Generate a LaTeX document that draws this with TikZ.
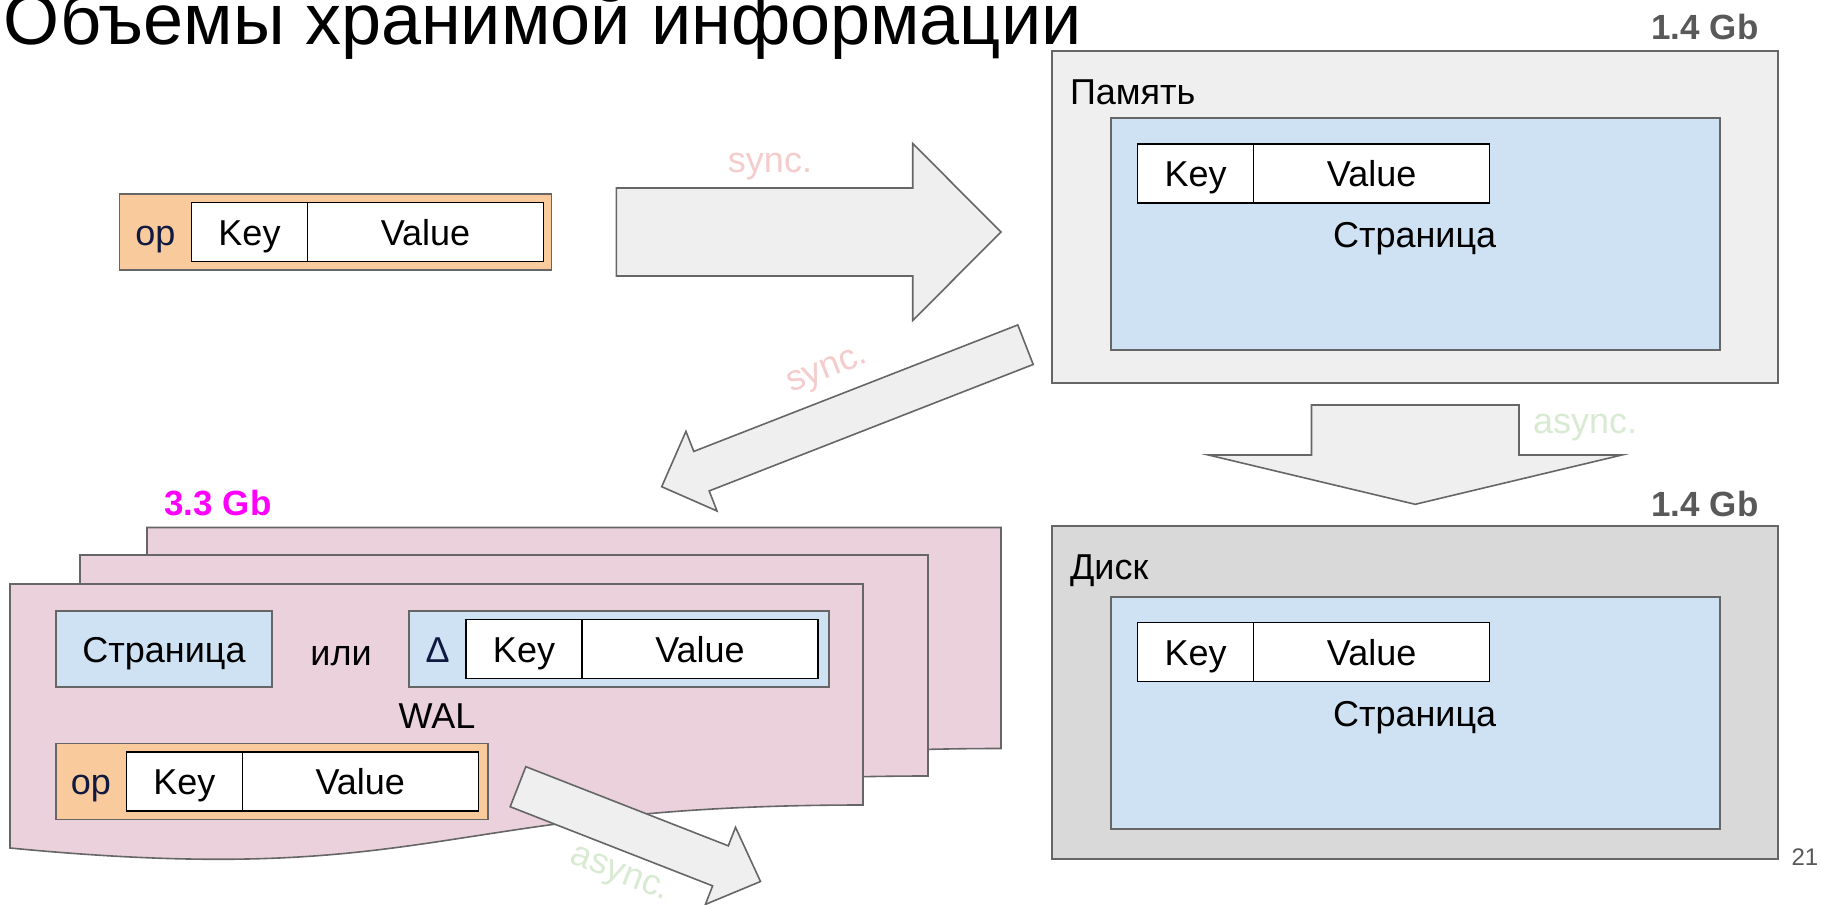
\documentclass[tikz,border=0pt]{standalone}
\usepackage{fontspec}
\setmainfont{Liberation Sans}
\usepackage{tikz}
\usetikzlibrary{positioning,calc}

\definecolor{linegray}{HTML}{666666}
\definecolor{memfill}{HTML}{EFEFEF}
\definecolor{diskfill}{HTML}{D9D9D9}
\definecolor{pagefill}{HTML}{CFE2F3}
\definecolor{opfill}{HTML}{F9CB9C}
\definecolor{walfill}{HTML}{EAD1DC}
\definecolor{syncpink}{HTML}{F4CCCC}
\definecolor{asyncgreen}{HTML}{D9EAD3}
\definecolor{sizegray}{HTML}{595959}
\definecolor{opnavy}{HTML}{101A40}
\definecolor{sizemagenta}{HTML}{FF00FF}

\tikzset{
  every node/.style={inner sep=0pt, outer sep=0pt, font=\fontsize{36}{43}\selectfont},
  grayline/.style={draw=linegray, line width=1.6pt},
  membox/.style={grayline, fill=memfill, minimum width=726pt, minimum height=332pt},
  diskbox/.style={grayline, fill=diskfill, minimum width=726pt, minimum height=333pt},
  pagebox/.style={grayline, fill=pagefill, minimum width=609pt, minimum height=232pt},
  opbox/.style={grayline, fill=opfill, minimum width=432pt, minimum height=76pt},
  deltabox/.style={grayline, fill=pagefill, minimum width=420pt, minimum height=76pt},
  kvcell/.style={draw=black, line width=1.6pt, fill=white, minimum height=59pt, text height=30pt, text depth=4pt},
  keycell/.style={kvcell, minimum width=116pt},
  valcell/.style={kvcell, minimum width=236pt},
  tagcell/.style={text=opnavy, minimum height=59pt, text height=30pt, text depth=4pt},
  sizelabel/.style={font=\fontsize{35}{42}\selectfont\bfseries, text=sizegray},
  synclabel/.style={text=syncpink},
  asynclabel/.style={text=asyncgreen},
  walsheet/.style={grayline, fill=walfill},
  fatarrow/.style={grayline, fill=memfill, line join=miter},
}

% one sheet of the WAL: left, top, right
\newcommand\drawsheet[3]{%
  \filldraw[walsheet] (#1,#2) -- (#3,#2) -- (#3,{#2+221})
    .. controls ({(#1+#3)/2},{#2+221}) and ({(#1+#3)/2},{#2+305}) .. (#1,{#2+264}) -- cycle;
}
% block arrow: tail, tip, half shaft, half head, head length
\newcommand\blockarrow[5]{%
  \coordinate (#1base) at ($(#2)!#5!(#1)$);
  \filldraw[fatarrow] ($(#1)!#3!90:(#2)$) -- ($(#1base)!#3!90:(#2)$) -- ($(#1base)!#4!90:(#2)$)
    -- (#2) -- ($(#1base)!#4!-90:(#2)$) -- ($(#1base)!#3!-90:(#2)$) -- ($(#1)!#3!-90:(#2)$) -- cycle;
}

\begin{document}
\begin{tikzpicture}[x=1pt, y=-1pt]
    \useasboundingbox (0,0) rectangle (1821,905);
    % title, cut at the top
    \node[anchor=base west, font=\fontsize{72}{86}\selectfont] (title) at (4,44) {Объемы хранимой информации};

    % incoming record
    \node[opbox] (oprec) at (335.5,232) {};
    \node[keycell, anchor=west] (opkey) at (191.5,232) {Key};
    \node[valcell, right=0pt of opkey] (opval) {Value};
    \node[tagcell, left=0pt of opkey, minimum width=72pt] (optag) {op};

    % memory
    \node[membox] (mem) at (1415,216.7) {};
    \node[pagebox] (mempage) at (1415.3,233.8) {};
    \node[keycell, anchor=west] (memkey) at (1137.6,173.3) {Key};
    \node[valcell, right=0pt of memkey] (memval) {Value};
    \node[anchor=base west] (memlabel) at (1070,104) {Память};
    \node[anchor=base] (mempagelabel) at (1414.6,247.4) {Страница};
    \node[sizelabel, anchor=base east] (memsize) at (1758.5,39.4) {1.4 Gb};

    % disk
    \node[diskbox] (disk) at (1415,692.5) {};
    \node[pagebox] (diskpage) at (1415.3,712.7) {};
    \node[keycell, anchor=west] (diskkey) at (1137.6,652) {Key};
    \node[valcell, right=0pt of diskkey] (diskval) {Value};
    \node[anchor=base west] (disklabel) at (1070,579.3) {Диск};
    \node[anchor=base] (diskpagelabel) at (1414.6,726.7) {Страница};
    \node[sizelabel, anchor=base east] (disksize) at (1758.5,516.7) {1.4 Gb};

    % WAL sheets
    \drawsheet{147}{527.5}{1001}
    \drawsheet{80}{555}{928}
    \drawsheet{10}{584}{863}
    \node[sizelabel, text=sizemagenta, anchor=base west] (walsize) at (164.5,515) {3.3 Gb};
    \node[pagebox, minimum width=216pt, minimum height=76pt, text height=30pt, text depth=4pt] (walpage) at (164,649) {Страница};
    \node[anchor=base] (ili) at (341,665) {или};
    \node[deltabox] (delta) at (619.2,649) {};
    \node[keycell, anchor=west] (deltakey) at (466,649) {Key};
    \node[valcell, right=0pt of deltakey] (deltaval) {Value};
    \node[tagcell, left=0pt of deltakey, minimum width=56.6pt] (deltatag) {Δ};
    \node[anchor=base] (wal) at (437,728.3) {WAL};
    \node[opbox] (walrec) at (271.7,781.5) {};
    \node[keycell, anchor=west] (walkey) at (126.3,781.5) {Key};
    \node[valcell, right=0pt of walkey] (walval) {Value};
    \node[tagcell, left=0pt of walkey, minimum width=71pt] (waltag) {op};

    % draw arrows and text between them
    \coordinate (rtail) at (616.4,232);
    \coordinate (rtip) at (1001,232);
    \blockarrow{rtail}{rtip}{44pt}{88.5pt}{88.3pt}
    \node[synclabel, anchor=base] (rsync) at (770,172) {sync.};

    \coordinate (stail) at (1025.5,344.7);
    \coordinate (stip) at (661.7,486.7);
    \blockarrow{stail}{stip}{21.2pt}{42.75pt}{42.7pt}
    \node[synclabel, rotate=21.3] (ssync) at (828,372) {sync.};

    \coordinate (dtail) at (1415.2,405);
    \coordinate (dtip) at (1415.2,504.3);
    \blockarrow{dtail}{dtip}{103.75pt}{206.7pt}{49.3pt}
    \node[asynclabel, anchor=base west] (dasync) at (1533,433) {async.};

    \coordinate (atail) at (518,786.7);
    \coordinate (atip) at (760.5,881.5);
    \blockarrow{atail}{atip}{21.5pt}{41.4pt}{43pt}
    \node[asynclabel, rotate=-21.3] (aasync) at (619,876) {async.};

    \node[anchor=base west, text=sizegray, font=\fontsize{24}{29}\selectfont] (pagenum) at (1791.5,865.6) {21};
\end{tikzpicture}
\end{document}
